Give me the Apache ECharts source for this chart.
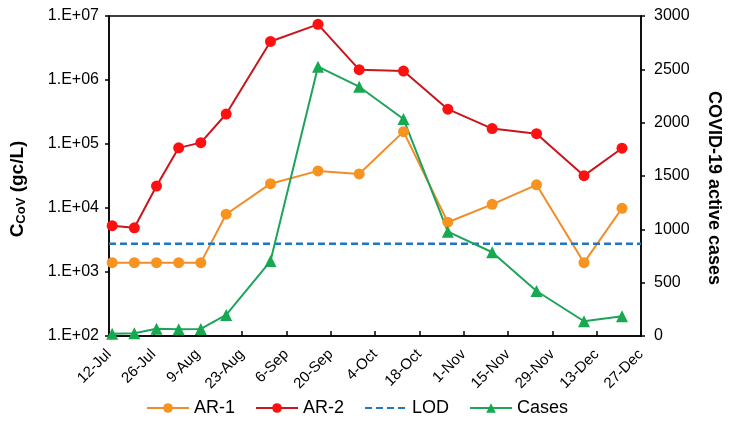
<!DOCTYPE html>
<html><head><meta charset="utf-8">
<script src="https://cdn.jsdelivr.net/npm/echarts@6/dist/echarts.min.js"></script>
<style>html,body{margin:0;padding:0;background:#fff}#c{width:731px;height:426px}</style>
</head><body><div id="c"></div>
<script>
var startDate = '2020-07-12';
var endDate = '2020-12-27';
var tickLabels = ['12-Jul','26-Jul','9-Aug','23-Aug','6-Sep','20-Sep','4-Oct','18-Oct','1-Nov','15-Nov','29-Nov','13-Dec','27-Dec'];
var sampleDates = ['2020-07-13','2020-07-20','2020-07-27','2020-08-03','2020-08-10','2020-08-18','2020-09-01','2020-09-16','2020-09-29','2020-10-13','2020-10-27','2020-11-10','2020-11-24','2020-12-09','2020-12-21'];
var ar1 = [1400,1400,1400,1400,1400,8000,24000,38000,34000,156000,6000,11400,23000,1400,9900];
var ar2 = [5300,4900,22000,87000,105000,294000,4000000,7400000,1450000,1380000,350000,174000,145000,32000,86000];
var cases = [20,25,68,63,66,197,703,2525,2337,2034,978,785,422,138,185];
var lod = 2770;

var DAY = 86400000;
function dayOf(d){ return Math.round((Date.parse(d) - Date.parse(startDate)) / DAY); }
var xMax = dayOf(endDate);
function pts(vals){ return sampleDates.map(function(d,i){ return [dayOf(d), vals[i]]; }); }

var font = 'Liberation Sans, Arial, sans-serif';
var chart = echarts.init(document.getElementById('c'));
chart.setOption({
  animation: false,
  textStyle: {fontFamily: font},
  grid: {left: 108, right: 88, top: 16, bottom: 90, show: true, borderColor: '#000', borderWidth: 1.5},
  legend: {
    bottom: 4, left: 141, itemWidth: 42, itemHeight: 12, itemGap: 20,
    textStyle: {fontSize: 18, color: '#000', fontFamily: font},
    data: ['AR-1','AR-2',{name: 'LOD', itemStyle: {opacity: 0}},'Cases']
  },
  xAxis: {
    type: 'value', min: 0, max: xMax, interval: 14,
    axisLine: {lineStyle: {color: '#000', width: 1.5}},
    axisTick: {inside: true, length: 5, lineStyle: {color: '#000', width: 1.5}},
    splitLine: {show: false},
    axisLabel: {rotate: 45, fontSize: 15, color: '#000', margin: 16,
      formatter: function(v){ return tickLabels[Math.round(v/14)] || ''; }}
  },
  yAxis: [{
    type: 'log', logBase: 10, min: 100, max: 1e7,
    axisLine: {show: true, lineStyle: {color: '#000', width: 1.5}},
    axisTick: {show: true, length: 4, lineStyle: {color: '#000', width: 1.5}},
    splitLine: {show: false},
    axisLabel: {fontSize: 16, color: '#000', margin: 10,
      formatter: function(v){ var e = Math.round(Math.log10(v)); return '1.E+' + (e < 10 ? '0' : '') + e; }},
    name: '{a|C}{b|CoV}{a| (gc/L)}', nameLocation: 'middle', nameRotate: 90, nameGap: 81,
    nameTextStyle: {padding: [0, 26, 0, 0], rich: {
      a: {fontSize: 19, fontWeight: 'bold', color: '#000', fontFamily: font},
      b: {fontSize: 13, fontWeight: 'bold', color: '#000', fontFamily: font, padding: [8,0,0,0]}
    }}
  },{
    type: 'value', min: 0, max: 3000, interval: 500, position: 'right',
    axisLine: {show: true, lineStyle: {color: '#000', width: 1.5}},
    axisTick: {show: true, length: 4, lineStyle: {color: '#000', width: 1.5}},
    splitLine: {show: false},
    axisLabel: {fontSize: 16, color: '#000', margin: 13, formatter: function(v){ return String(v); }},
    name: 'COVID-19 active cases', nameLocation: 'middle', nameRotate: -90, nameGap: 64,
    nameTextStyle: {fontSize: 18, fontWeight: 'bold', color: '#000', fontFamily: font, padding: [0, 0, 0, 24]}
  }],
  series: [
    {name: 'AR-1', type: 'line', yAxisIndex: 0, data: pts(ar1), symbol: 'circle', symbolSize: 11,
      lineStyle: {color: '#F28C28', width: 2}, itemStyle: {color: '#F7931E'}},
    {name: 'AR-2', type: 'line', yAxisIndex: 0, data: pts(ar2), symbol: 'circle', symbolSize: 11,
      lineStyle: {color: '#C8161D', width: 2}, itemStyle: {color: '#FF1010'}},
    {name: 'LOD', type: 'line', yAxisIndex: 0, data: [[0, lod],[xMax, lod]], symbol: 'none',
      lineStyle: {color: '#1F77C4', width: 2.5, type: [7,4]}, itemStyle: {color: '#1F77C4'}},
    {name: 'Cases', type: 'line', yAxisIndex: 1, data: pts(cases), symbol: 'triangle', symbolSize: 12,
      lineStyle: {color: '#1EA35A', width: 2}, itemStyle: {color: '#17A94F'}}
  ]
});
</script></body></html>
